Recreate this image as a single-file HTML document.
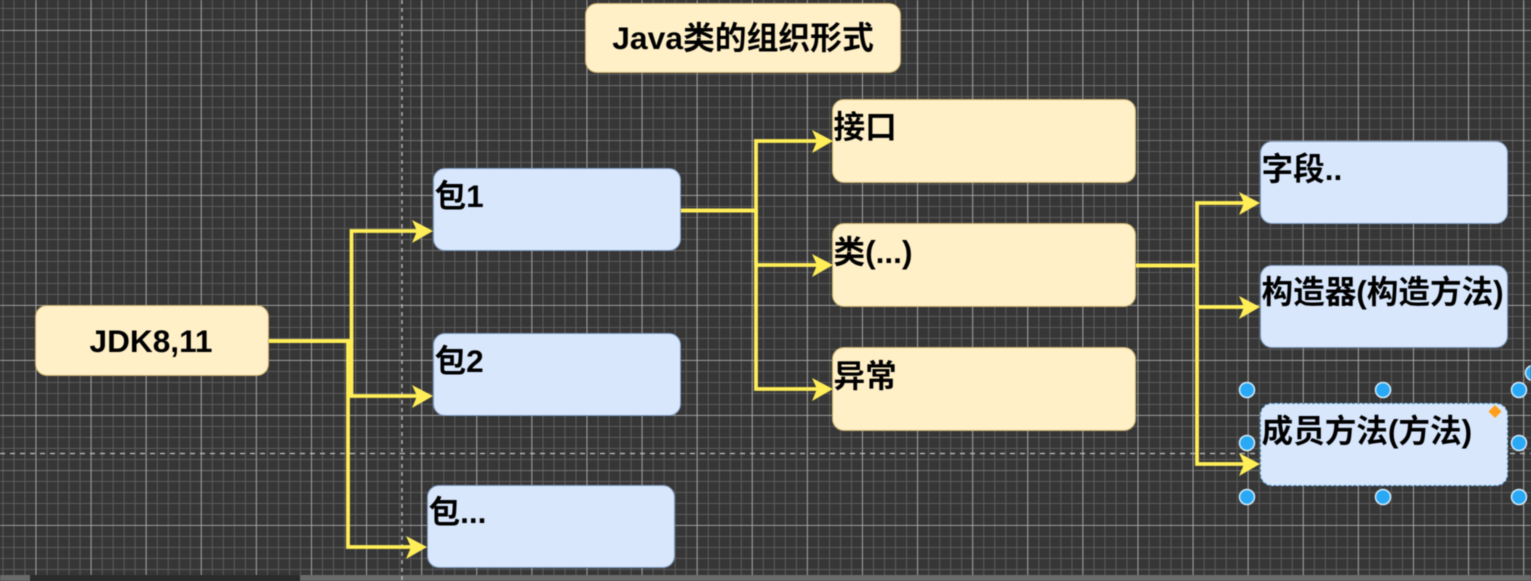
<!DOCTYPE html>
<html>
<head>
<meta charset="utf-8">
<style>
html,body{margin:0;padding:0;background:#363636;}
body{width:1531px;height:581px;overflow:hidden;position:relative;font-family:"Liberation Sans","Noto Sans CJK SC",sans-serif;}
#w{position:absolute;left:0;top:0;width:1531px;height:581px;filter:blur(0.45px);}
svg{position:absolute;left:0;top:0;}
.n{position:absolute;box-sizing:border-box;border-radius:12px;color:#000;font-weight:bold;font-size:31.6px;line-height:36px;white-space:nowrap;}
.y{background:#fff0c8;border:1.5px solid #c9ae68;}
.b{background:#d8e7fc;border:1.5px solid #7f9cc2;}
.c{display:flex;align-items:center;justify-content:center;}
.t{padding:8.500px 0 0 0.500px;}
</style>
</head>
<body>
<div id="w">
<svg width="1531" height="581" xmlns="http://www.w3.org/2000/svg">
<defs>
<pattern id="minor" x="2.5" y="8" width="11.02" height="11" patternUnits="userSpaceOnUse">
<path d="M0 0H11.02M0 0V11" fill="none" stroke="#606060" stroke-width="1.8"/>
</pattern>
<pattern id="major" x="35.5" y="30" width="55.1" height="55" patternUnits="userSpaceOnUse">
<path d="M0 0H55.1M0 0V55" fill="none" stroke="#b4b4b4" stroke-width="1.6"/>
</pattern>
</defs>
<rect width="1531" height="581" fill="#363636"/>
<rect width="1531" height="575" fill="url(#minor)"/>
<rect width="1531" height="575" fill="url(#major)"/>
<rect y="575" width="1531" height="6" fill="#6a6a6a"/>
<rect x="30" y="575" width="270" height="6" fill="#2b2b2b"/>
<path d="M402 0V581" stroke="#c4c4c4" stroke-width="1.3" stroke-dasharray="4 4" fill="none"/>
<path d="M0 453.500H1531" stroke="#c4c4c4" stroke-width="1.3" stroke-dasharray="5 5" fill="none"/>
<g fill="none" stroke="#ffee58" stroke-width="3.800">
<path d="M268 341H351.500V231H420"/>
<path d="M268 341H351.500V396H420"/>
<path d="M268 341H348V547H414"/>
<path d="M680 210.500H756V141H820"/>
<path d="M680 210.500H756V265H820"/>
<path d="M680 210.500H756V389H820"/>
<path d="M1135 265.500H1197V203H1247"/>
<path d="M1135 265.500H1197V307H1247"/>
<path d="M1135 265.500H1197V464H1247"/>
</g>
<g fill="#ffee58">
<path d="M433 231L412 220L417 231L412 243Z"/>
<path d="M433 396L412 385L417 396L412 408Z"/>
<path d="M427 547L406 536L411 547L406 559Z"/>
<path d="M833 141L812 130L817 141L812 153Z"/>
<path d="M833 265L812 254L817 265L812 277Z"/>
<path d="M833 389L812 378L817 389L812 401Z"/>
<path d="M1260 203L1239 192L1244 203L1239 215Z"/>
<path d="M1260 307L1239 296L1244 307L1239 319Z"/>
<path d="M1260 464L1239 453L1244 464L1239 476Z"/>
</g>
</svg>

<div class="n y c" style="left:585px;top:3px;width:316px;height:70px;font-size:31.800px;">Java类的组织形式</div>
<div class="n y c" style="left:35px;top:305px;width:234px;height:71px;padding-right:2px;">JDK8,11</div>

<div class="n b t" style="left:433px;top:168px;width:248px;height:83px;">包1</div>
<div class="n b t" style="left:433px;top:333px;width:248px;height:83px;">包2</div>
<div class="n b t" style="left:427px;top:485px;width:248px;height:83px;padding-top:7.500px;">包...</div>

<div class="n y t" style="left:832px;top:99px;width:304px;height:84px;padding-top:8.500px;">接口</div>
<div class="n y t" style="left:832px;top:223px;width:304px;height:84px;padding-top:9.500px;">类(...)</div>
<div class="n y t" style="left:832px;top:347px;width:304px;height:84px;padding-top:9.500px;">异常</div>

<div class="n b t" style="left:1260px;top:141px;width:248px;height:83px;">字段..</div>
<div class="n b t" style="left:1260px;top:265px;width:248px;height:83px;padding-top:7.500px;">构造器(构造方法)</div>
<div class="n b t" style="left:1260px;top:403px;width:248px;height:83px;border:1.500px dashed #3f8fc4;padding-top:8.500px;">成员方法(方法)</div>

<svg width="1531" height="581" xmlns="http://www.w3.org/2000/svg" style="pointer-events:none">
<g fill="#29a9f5" stroke="#d5ecfa" stroke-width="1.500">
<circle cx="1247" cy="390" r="7.500"/>
<circle cx="1383" cy="390" r="7.500"/>
<circle cx="1519" cy="390" r="7.500"/>
<circle cx="1247" cy="443" r="7.500"/>
<circle cx="1519" cy="443" r="7.500"/>
<circle cx="1247" cy="497" r="7.500"/>
<circle cx="1383" cy="497" r="7.500"/>
<circle cx="1519" cy="497" r="7.500"/>
<circle cx="1533" cy="373" r="7.500"/>
</g>
<path d="M1495 405L1501.500 411.500L1495 418L1488.500 411.500Z" fill="#ff9f1a"/>
</svg>
</div>
</body>
</html>
